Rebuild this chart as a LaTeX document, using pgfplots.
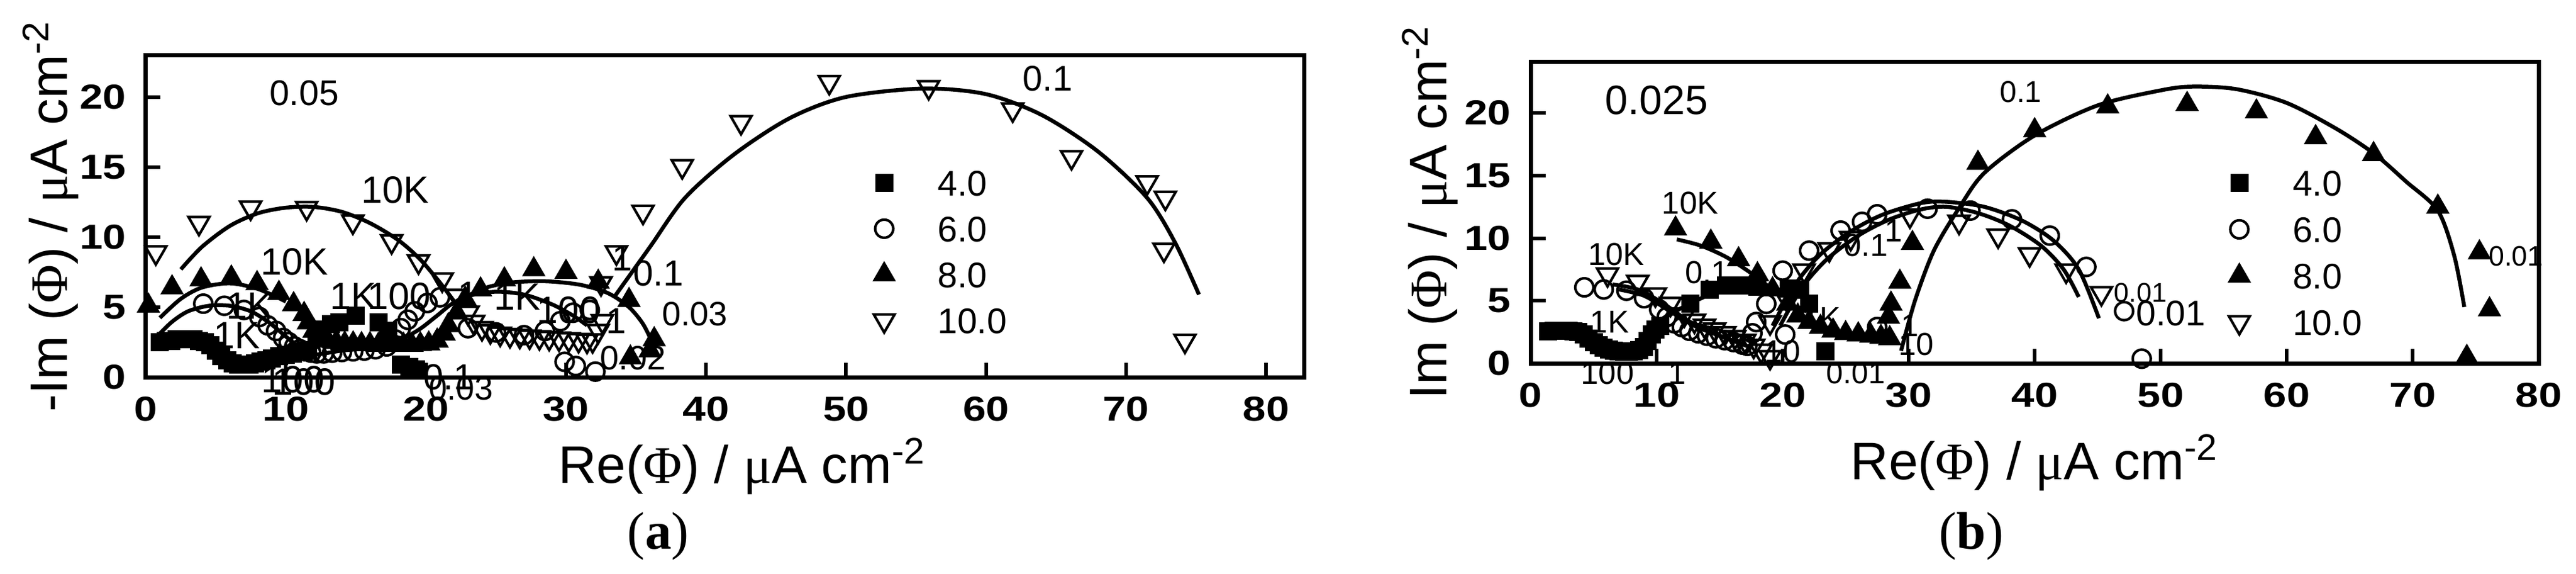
\documentclass[border=0pt]{standalone}
\usepackage{pgfplots}
\pgfplotsset{compat=1.18}
\usepackage{fontspec}
\setmainfont{Liberation Sans}
\newfontfamily\serif{Liberation Serif}
\newfontfamily\tickfont{Liberation Sans}[FakeStretch=1.2]
\newcommand{\fs}[1]{\fontsize{#1}{#1}\selectfont}
\newcommand{\Ph}{{\serif Φ}}
\newcommand{\mmu}{{\serif μ}}

\tikzset{lab/.style={font=\fs{#1}, inner sep=0pt}}
\pgfplotsset{
  panel/.style={
    scale only axis, clip=false,
    axis line style={line width=1.4pt},
    tick align=inside, xtick pos=bottom, ytick pos=left,
    major tick length=4.9pt,
    every tick/.style={line width=1.2pt, black},
    xmin=0, ymin=0,
    xtick={0,10,...,80}, ytick={0,5,...,20},
    /pgf/number format/assume math mode=true,
    tick label style={font=\tickfont\bfseries\fs{11.5}},
    xticklabel style={yshift=-3pt},
    yticklabel style={xshift=-3pt},
    label style={font=\fs{17.5}},
    legend style={draw=none, fill=none, inner sep=0pt, outer sep=0pt,
      font=\fs{11.8}, row sep=6.7pt, column sep=3.5pt,
      nodes={inner sep=0pt, text height=8.5pt, text depth=0pt}},
    legend cell align=left,
    legend image code/.code={\path (-4pt,0pt) (14pt,0pt);
      \draw[##1] plot coordinates {(0pt,0pt)};},
  },
  sq/.style={only marks, mark=square*, mark size=2.75pt, black, mark options={line width=0.5pt}},
  ci/.style={only marks, mark=o, mark size=3pt, black, mark options={line width=0.85pt}},
  tu/.style={only marks, mark=triangle*, mark size=4pt, black, mark options={line width=0.5pt}},
  td/.style={only marks, mark=triangle, mark size=4pt, black, mark options={rotate=180, line width=0.85pt}},
  fit/.style={black, line width=1.3pt, smooth, no marks, forget plot},
}

\begin{document}
\begin{tikzpicture}
\path[use as bounding box] (0,0) rectangle (854.6pt,190.2pt);

% ---------- (a) ----------
\begin{axis}[panel, at={(48.4pt,65.2pt)}, anchor=south west,
  width=384.2pt, height=106.8pt, xmax=82.7, ymax=23,
  xlabel={Re(\Ph) / \mmu A cm\textsuperscript{-2}},
  ylabel={-Im (\Ph) / \mmu A cm\textsuperscript{-2}},
  xlabel style={at={(axis description cs:0.515,0)}, anchor=base, yshift=-35pt},
  ylabel style={at={(axis description cs:-0.0822,0.5)}, anchor=center},
  legend style={at={(0.6266,0.643)}, anchor=north west},
]
\addplot[sq] coordinates {
(1.0,2.5)(1.4,2.6)(1.8,2.6)(2.2,2.7)(2.6,2.7)(3.0,2.7)(3.4,2.7)(3.8,2.6)(4.2,2.5)
(4.6,2.3)(5.0,1.9)(5.4,1.5)(5.8,1.2)(6.2,1.0)(6.6,0.9)(7.0,0.9)(7.4,0.9)(7.8,1.0)
(8.2,1.1)(8.6,1.2)(9.0,1.35)(9.5,1.5)(10.0,1.6)(10.5,1.7)(11.0,1.8)(11.6,1.9)
(12.2,2.9)(12.6,3.4)(13.2,3.8)(13.8,3.9)(15.0,4.4)(16.6,3.9)(17.3,3.3)
(18.2,0.9)(18.8,0.75)(19.3,0.55)
};
\addlegendentry{4.0}
\addplot[ci] coordinates {
(4.1,5.25)(5.6,5.1)(7.0,4.8)(8.1,4.3)(8.7,3.7)(9.3,3.3)(9.8,2.8)(10.2,2.5)(10.6,2.2)
(11.0,2.0)(11.4,1.85)(11.8,1.75)(12.2,1.7)(12.7,1.7)(13.3,1.75)(14.0,1.8)(14.8,1.85)
(15.6,1.9)(16.4,2.0)(17.2,2.2)(17.8,2.7)(18.2,3.5)(18.7,4.1)(19.2,4.7)(20.1,5.3)
(21.0,5.7)(23.0,3.5)(25.0,3.2)(27.0,3.0)(28.5,3.3)(29.6,4.0)(30.5,4.6)(31.7,4.8)
(29.9,1.1)(30.7,0.8)(32.1,0.4)
};
\addlegendentry{6.0}
\addplot[tu] coordinates {
(0.18,5.1)(1.87,6.4)(3.94,6.97)(6.1,7.1)(7.94,6.7)(9.5,6.0)(10.55,5.2)(11.3,4.5)
(11.6,3.9)(12.0,3.3)(12.5,2.9)(13.0,2.6)(13.6,2.5)(14.2,2.4)(14.8,2.4)(15.4,2.35)
(16.0,2.35)(16.6,2.3)(17.2,2.3)(17.8,2.3)(18.4,2.3)(19.0,2.3)(19.6,2.35)(20.2,2.4)
(20.8,2.6)(21.3,3.1)(21.6,3.7)(22.2,4.6)(22.8,5.6)(23.9,6.25)(25.6,6.97)(27.7,7.69)
(30.0,7.5)(32.3,6.8)(34.5,5.5)(36.3,2.7)(36.0,1.9)(34.6,1.4)
};
\addlegendentry{8.0}
\addplot[td] coordinates {
(0.71,8.9)(3.79,11.0)(7.48,12.1)(11.48,12.07)(14.78,11.1)(17.55,9.7)(19.47,8.26)
(21.16,6.97)(22.2,5.8)(23.0,4.6)(23.4,3.94)(24.0,3.5)(24.6,3.28)(25.3,3.1)(26.0,3.0)
(26.7,2.95)(27.4,2.9)(28.1,2.85)(28.8,2.8)(29.5,2.75)(30.2,2.7)(30.9,2.65)(31.5,2.6)
(31.9,2.63)(32.3,3.3)(32.6,4.0)(32.5,6.7)(33.6,8.9)(35.5,11.8)(38.3,15.05)(42.5,18.2)
(48.8,21.06)(55.9,20.7)(61.9,19.1)(66.1,15.7)(71.5,13.9)(72.8,12.8)(72.7,9.1)(74.2,2.6)
};
\addlegendentry{10.0}
% fitted curves
\addplot[fit] coordinates {(2.5,7.7)(4,9.3)(6,10.8)(8,11.7)(10,12.1)(12,12.15)(14,11.8)
  (16,11.0)(18,9.8)(19.5,8.5)(20.8,7.0)(21.8,5.7)(22.5,4.7)};
\addplot[fit] coordinates {(33.5,5.8)(36,9.3)(38.5,12.8)(42,15.9)(46,18.5)(50,20.0)
  (55.5,20.6)(60,20.2)(64,18.7)(68,16.1)(71.5,12.8)(73.5,9.6)(75.2,5.9)};
\addplot[fit] coordinates {(1.0,4.24)(2.5,5.6)(4,6.4)(6,6.7)(8,6.3)(10,5.4)};
\addplot[fit] coordinates {(0.56,2.66)(1.8,3.9)(3.0,4.7)(4.5,5.1)(6,5.1)(7.5,4.7)
  (8.8,3.9)(10,2.9)(11,2.1)(11.8,1.6)(14,1.9)(16,2.1)(18,2.6)(19.5,3.4)(20.8,4.4)
  (21.8,5.2)(23,5.8)(25,6.1)(27,5.9)(29,5.2)(30.5,4.4)(31.5,3.7)};
\addplot[fit] coordinates {(22.3,5.4)(24,6.3)(26,6.75)(28.5,6.85)(31,6.6)(33,6.0)
  (34.5,5.0)(35.5,3.8)(36.2,2.4)};
% frequency labels
\node[lab=11.8] at (axis cs:11.3,20.3) {0.05};
\node[lab=12.6] at (axis cs:17.8,13.35) {10K};
\node[lab=12.6] at (axis cs:10.6,8.25) {10K};
\node[lab=12.6] at (axis cs:7.4,5.1) {1K};
\node[lab=12.6] at (axis cs:6.5,3.0) {1K};
\node[lab=12.6] at (axis cs:10.5,-0.15) {100};
\node[lab=12.6] at (axis cs:11.3,-0.35) {100};
\node[lab=12.6] at (axis cs:14.8,5.77) {1K};
\node[lab=12.6] at (axis cs:18.1,5.77) {100};
\node[lab=12.6] at (axis cs:26.5,5.75) {1K};
\node[lab=12.6] at (axis cs:30.2,4.8) {100};
\node[lab=12] at (axis cs:36.6,7.4) {0.1};
\node[lab=12] at (axis cs:34.0,8.5) {1};
\node[lab=12] at (axis cs:33.6,4.0) {1};
\node[lab=12] at (axis cs:23.0,5.9) {1};
\node[lab=11.2] at (axis cs:39.2,4.5) {0.03};
\node[lab=11.2] at (axis cs:34.8,1.37) {0.02};
\node[lab=12] at (axis cs:21.6,0.0) {0.1};
\node[lab=11] at (axis cs:22.5,-0.8) {0.03};
\node[lab=11.8] at (axis cs:64.4,21.3) {0.1};
\end{axis}

% ---------- (b) ----------
\begin{axis}[panel, at={(507.8pt,69.8pt)}, anchor=south west,
  width=334.4pt, height=100pt, xmax=80, ymax=24.1,
  xlabel={Re(\Ph) / \mmu A cm\textsuperscript{-2}},
  ylabel={Im (\Ph) / \mmu A cm\textsuperscript{-2}},
  xlabel style={at={(axis description cs:0.5,0)}, anchor=base, yshift=-38.4pt},
  ylabel style={at={(axis description cs:-0.0999,0.5)}, anchor=center},
  legend style={at={(0.6905,0.6405)}, anchor=north west, row sep=6.9pt},
]
\addplot[sq] coordinates {
(1.4,2.55)(1.8,2.6)(2.2,2.6)(2.6,2.6)(3.0,2.6)(3.4,2.55)(3.8,2.5)(4.2,2.3)(4.6,2.0)
(5.0,1.7)(5.4,1.45)(5.8,1.25)(6.2,1.1)(6.6,1.0)(7.0,0.95)(7.4,0.9)(7.8,0.9)(8.2,0.95)
(8.6,1.05)(9.0,1.3)(9.3,1.8)(9.6,2.3)(9.9,2.7)(10.3,3.0)(12.7,4.75)(14.2,5.9)
(15.5,6.2)(16.3,6.2)(17.2,6.2)(18.0,6.1)(20.5,6.0)(21.4,5.9)(22.1,4.75)(23.4,0.95)
};
\addlegendentry{4.0}
\addplot[ci] coordinates {
(4.26,6.07)(5.8,5.9)(7.6,5.8)(9.0,5.2)(10.2,4.3)(10.8,3.7)(11.4,3.2)(12.0,2.9)
(12.6,2.6)(13.3,2.4)(14.0,2.2)(14.7,2.0)(15.4,1.85)(16.1,1.7)(16.8,1.5)(17.2,1.4)
(17.6,2.4)(17.9,3.3)(18.7,4.75)(20.0,7.4)(22.1,9.0)(24.6,10.6)(26.3,11.3)(27.5,11.9)
(31.5,12.35)(34.9,12.2)(38.2,11.5)(41.2,10.2)(44.1,7.7)(47.1,4.17)(48.5,0.37)
(20.2,2.3)(27.5,2.9)
};
\addlegendentry{6.0}
\addplot[tu] coordinates {
(11.5,10.75)(14.3,9.7)(16.5,8.3)(18.0,7.1)(19.2,5.9)(20.4,4.75)(21.2,3.8)(22.1,3.3)
(23.0,2.9)(24.0,2.6)(25.0,2.4)(26.0,2.3)(27.0,2.2)(27.8,2.1)(28.5,2.0)(28.4,3.7)
(28.6,4.75)(29.3,6.5)(30.3,9.6)(35.5,16.0)(40.0,18.6)(45.8,20.5)(52.1,20.7)(57.6,20.1)
(62.3,18.05)(66.9,16.7)(72.0,12.5)(75.3,8.85)(76.1,4.3)(74.3,0.5)
};
\addlegendentry{8.0}
\addplot[td] coordinates {
(6.1,7.1)(8.5,6.5)(9.9,5.5)(11.1,4.75)(12.2,3.9)(13.0,3.4)(13.8,3.0)(14.6,2.7)
(15.4,2.4)(16.2,2.1)(17.0,1.8)(17.7,1.4)(18.3,1.0)(19.0,0.5)(19.0,3.27)(20.4,5.0)
(21.7,7.4)(23.7,9.1)(25.4,10.0)(30.1,11.8)(34.0,11.3)(37.1,10.2)(39.6,8.7)(42.5,7.4)
(45.3,5.6)
};
\addlegendentry{10.0}
% fitted curves
\addplot[fit] coordinates {(29.4,1.0)(30.5,5.0)(32,9.0)(34,12.4)(36,15.2)(40,18.2)
  (45,20.6)(50,21.8)(52.5,22.1)(56,21.9)(60,20.8)(64,18.7)(67,16.7)(69.5,14.5)
  (72,12.2)(73.3,8.6)(74.1,4.5)};
\addplot[fit] coordinates {(11.6,9.9)(13.5,9.4)(15.5,8.5)(17.5,7.2)(19.3,5.8)};
\addplot[fit] coordinates {(19.2,3.0)(21,6.3)(23,8.7)(25.5,10.6)(28,11.9)(31,12.8)
  (33,12.9)(36,12.5)(39,11.4)(41.5,9.8)(43.5,7.5)(45.1,3.6)};
\addplot[fit] coordinates {(19.8,3.0)(21.5,6.0)(23.5,8.3)(26,10.2)(28.5,11.5)(31,12.3)
  (33,12.5)(35.5,12.0)(38,11.0)(40.5,9.4)(42.3,7.5)(43.5,5.3)};
\addplot[fit] coordinates {(6.5,6.3)(8.5,5.9)(10.5,4.8)(12.5,3.4)(14.5,2.4)(17,1.5)};
\addplot[fit] coordinates {(7.0,5.9)(9,5.4)(11,4.2)(13,3.0)(15,2.2)(17.4,1.3)};
\addplot[fit] coordinates {(10.5,3.6)(12.5,4.7)(14.5,5.6)(16.5,6.1)};
% frequency labels
\node[lab=13.6] at (axis cs:10.0,21.0) {0.025};
\node[lab=10.5] at (axis cs:12.66,12.8) {10K};
\node[lab=10.5] at (axis cs:6.8,8.7) {10K};
\node[lab=10.5] at (axis cs:6.27,3.3) {1K};
\node[lab=10.5] at (axis cs:6.1,-0.8) {100};
\node[lab=10.5] at (axis cs:11.65,-0.8) {1};
\node[lab=10.5] at (axis cs:14.0,7.24) {0.1};
\node[lab=10.5] at (axis cs:26.6,9.43) {0.1};
\node[lab=10.5] at (axis cs:28.8,10.6) {1};
\node[lab=10.5] at (axis cs:23.1,3.6) {1K};
\node[lab=10.5] at (axis cs:20.0,0.95) {10};
\node[lab=10] at (axis cs:25.8,-0.8) {0.01};
\node[lab=10.5] at (axis cs:30.1,3.0) {1};
\node[lab=10.5] at (axis cs:30.6,1.5) {10};
\node[lab=10] at (axis cs:38.9,21.7) {0.1};
\node[lab=9.3] at (axis cs:78.2,8.55) {0.01};
\node[lab=9] at (axis cs:48.4,5.64) {0.01};
\node[lab=11.8] at (axis cs:50.8,4.0) {0.01};
\end{axis}

\node[font=\serif\fs{17.5}] at (218.4pt,12.6pt) {(\textbf{a})};
\node[font=\serif\fs{17.5}] at (654pt,12.6pt) {(\textbf{b})};
\end{tikzpicture}
\end{document}
